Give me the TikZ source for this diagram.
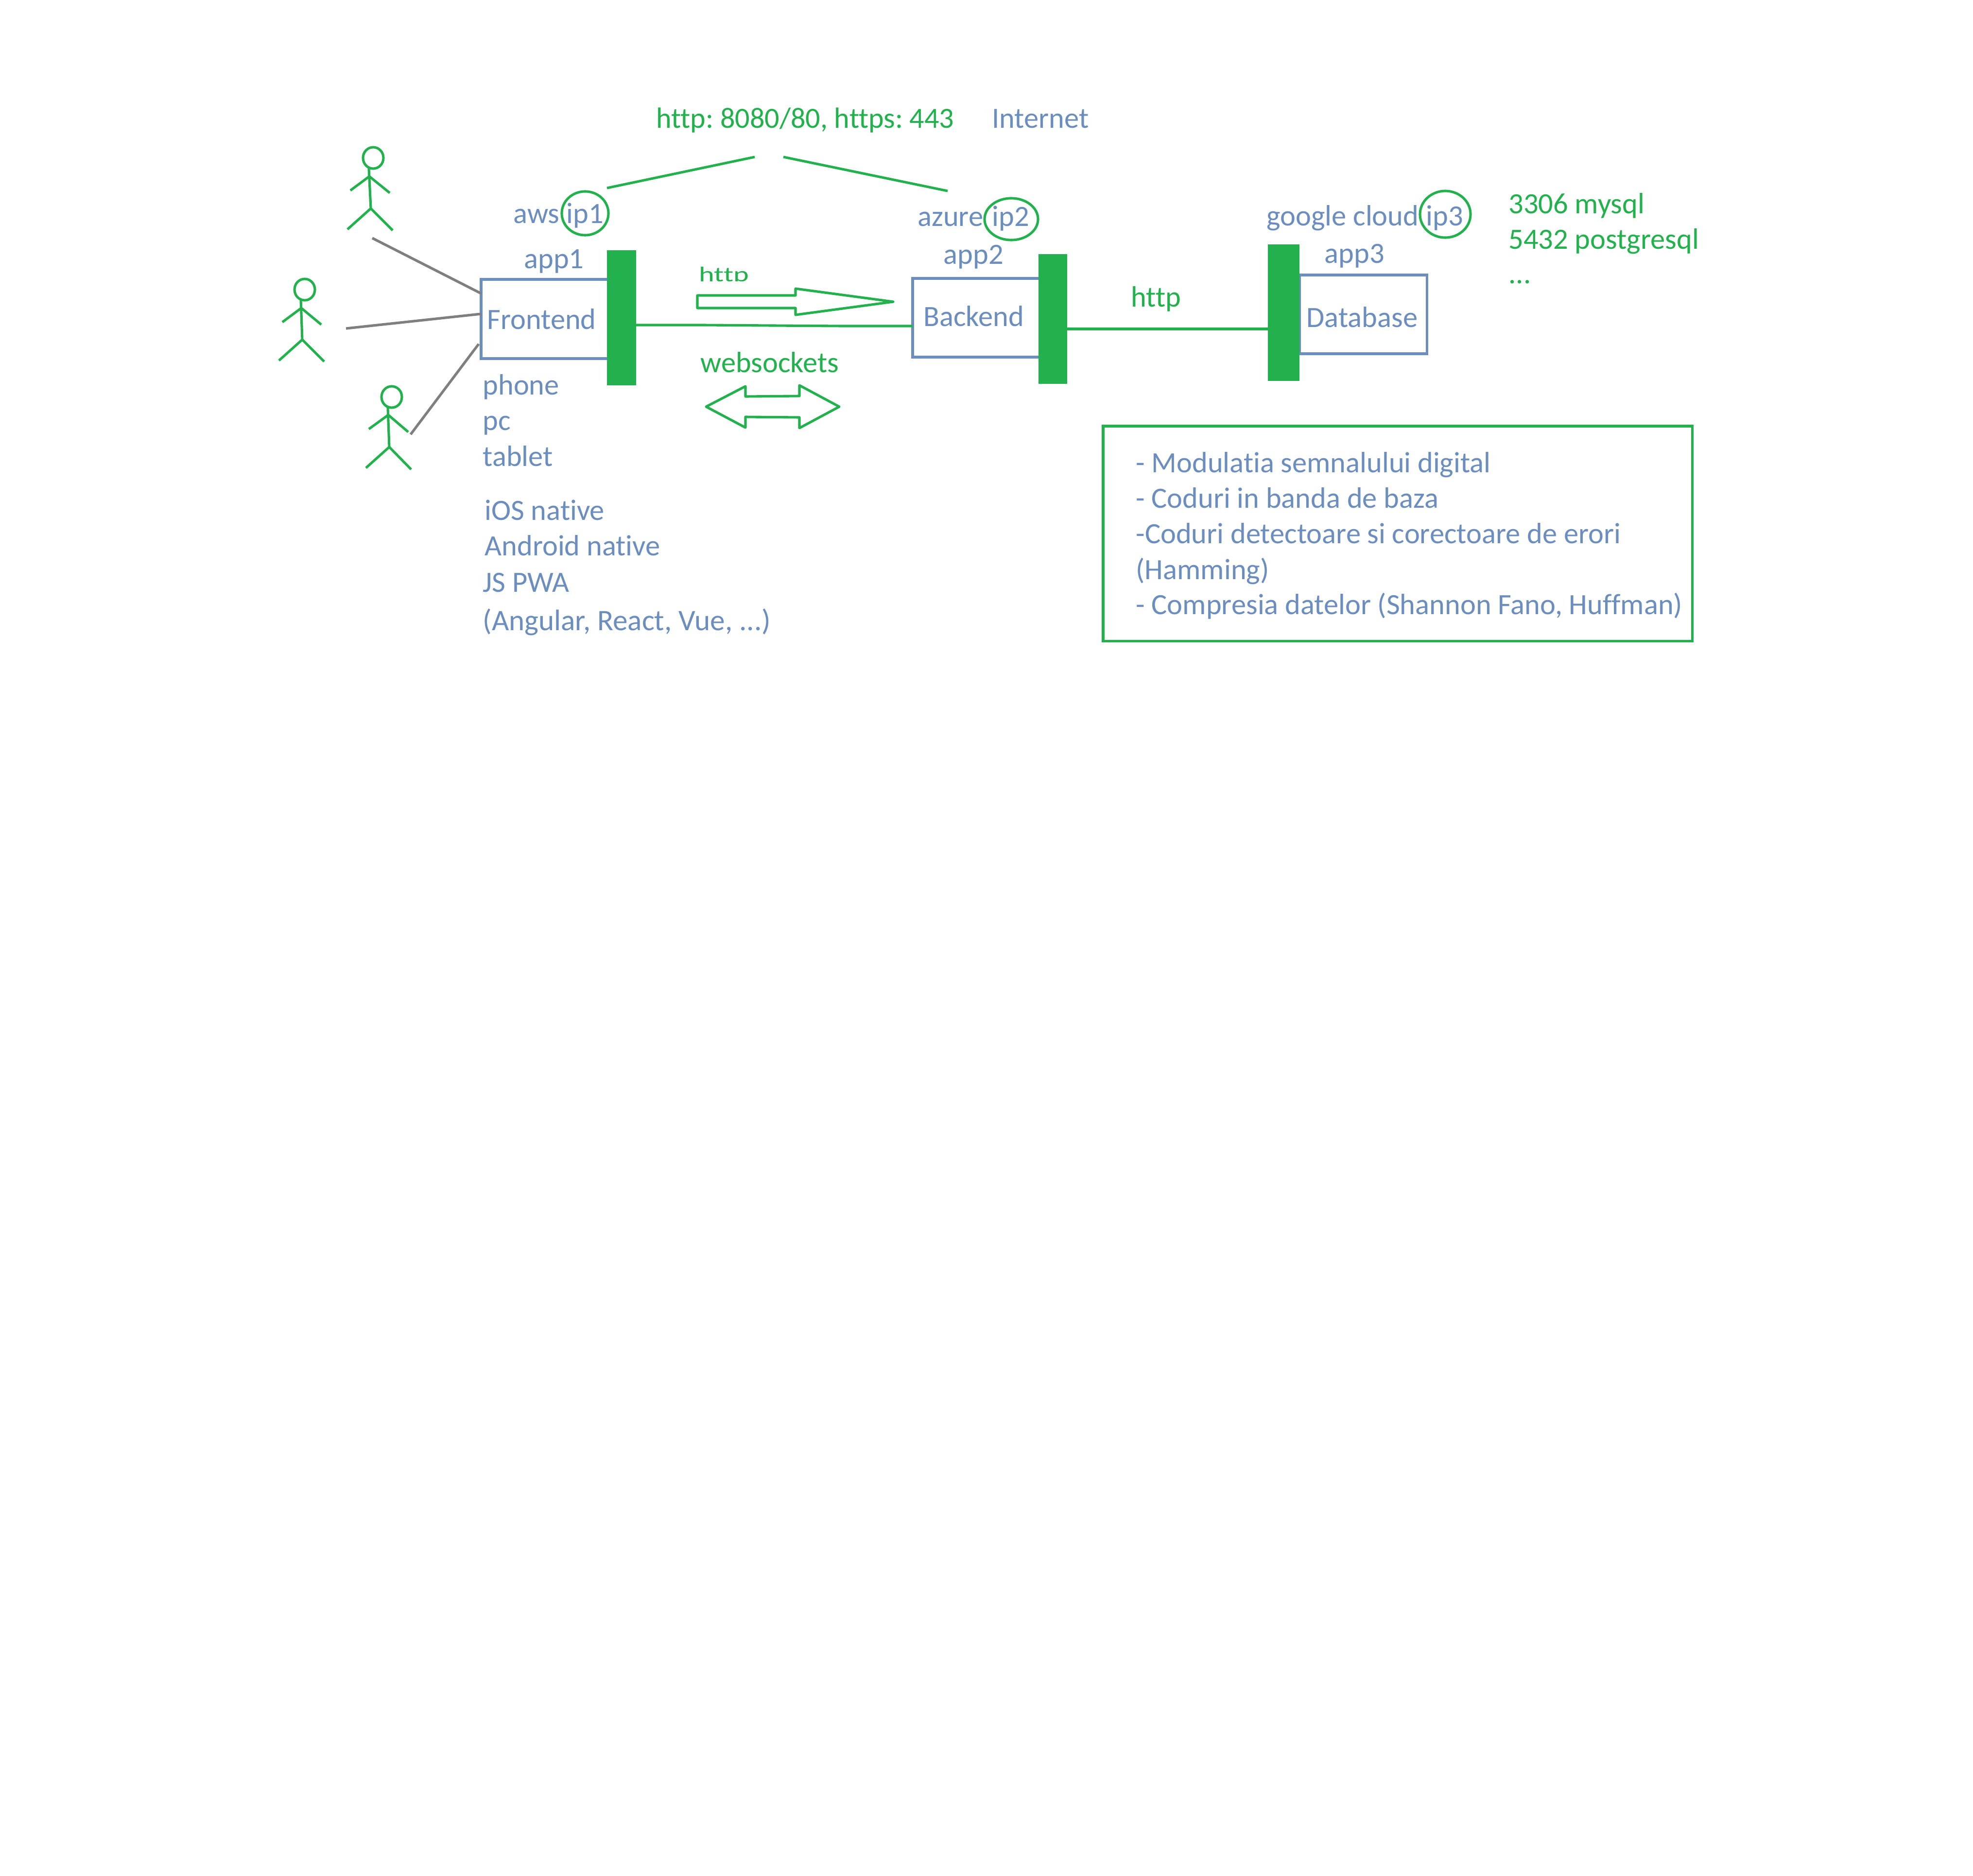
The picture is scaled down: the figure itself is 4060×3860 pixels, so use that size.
\documentclass[tikz,border=0pt]{standalone}
\usepackage{fontspec}
\setmainfont[Ligatures=NoCommon]{Carlito}
\definecolor{gr}{HTML}{22B14C}
\definecolor{bl}{HTML}{6C8EBF}
\definecolor{gy}{HTML}{7F7F7F}
\usetikzlibrary{shapes.geometric}
\tikzset{
  lb/.style={anchor=base west,inner sep=0pt,outer sep=0pt,text=bl,xshift=-0.015cm,yshift=-0.02cm,font=\fontsize{17.2}{20}\selectfont\frenchspacing},
  lg/.style={lb,text=gr},
  boxn/.style={draw=bl,line width=1.5pt,anchor=north west,inner sep=0pt,outer sep=0pt},
  bar/.style={fill=gr,draw=none,anchor=north west,inner sep=0pt,outer sep=0pt},
  gl/.style={draw=gr,line width=1.45pt,line join=round},
  gyl/.style={draw=gy,line width=1.5pt},
  ring/.style={draw=gr,line width=1.45pt,ellipse,inner sep=0pt,outer sep=0pt},
}
\begin{document}
\begin{tikzpicture}[x=0.01cm,y=-0.01cm]
\useasboundingbox[fill=white] (0,0) rectangle (4060,3860);

% boxes
\node[boxn,minimum width=2.61cm,minimum height=1.63cm] (front) at (990,575) {};
\node[boxn,minimum width=2.61cm,minimum height=1.62cm] (back) at (1878,573) {};
\node[boxn,minimum width=2.62cm,minimum height=1.62cm] (db) at (2674,566) {};
\node[bar,minimum width=0.60cm,minimum height=2.78cm] (bar1) at (1249,515) {};
\node[bar,minimum width=0.59cm,minimum height=2.67cm] (bar2) at (2137,523) {};
\node[bar,minimum width=0.65cm,minimum height=2.81cm] (bar3) at (2609,503) {};
\node[draw=gr,line width=1.5pt,anchor=north west,inner sep=0pt,outer sep=0pt,minimum width=12.12cm,minimum height=4.42cm] (note) at (2270,877) {};

% connectors
\coordinate (c1) at (1447,669);
\coordinate (c2) at (1734,671);
\draw[gl] (bar1.east |- 0,669) -- (c1) -- (c2) -- (back.west |- 0,671);
\draw[gl] (bar2.east |- 0,677) -- (bar3.west |- 0,677);

% top lines
\coordinate (t1) at (1249,387); \coordinate (t2) at (1553,323);
\coordinate (t3) at (1612,323); \coordinate (t4) at (1950,393);
\draw[gl] (t1) -- (t2);
\draw[gl] (t3) -- (t4);

% gray lines
\coordinate (u1) at (766,490);
\coordinate (u2) at (712,676);
\coordinate (u3) at (845,894);
\coordinate (u4) at (985,708);
\draw[gyl] (u1) -- (front.west |- 0,604);
\draw[gyl] (u2) -- (front.west |- 0,646);
\draw[gyl] (u3) -- (u4);

% actors
\node[ring,minimum width=0.42cm,minimum height=0.44cm] (h1) at (768,325) {};
\draw[gl] (759,347) -- (763,429) (721,392) -- (760,363) -- (802,397) (715,472) -- (763,429) -- (808,474);
\node[ring,minimum width=0.42cm,minimum height=0.44cm] (h2) at (627,596) {};
\draw[gl] (619,617) -- (622,699) (581,663) -- (620,634) -- (661,668) (574,742) -- (622,699) -- (667,744);
\node[ring,minimum width=0.42cm,minimum height=0.44cm] (h3) at (806,817) {};
\draw[gl] (798,839) -- (801,920) (759,883) -- (799,854) -- (840,889) (753,963) -- (801,920) -- (846,966);

% block arrows
\draw[gl] (1435,608) -- (1637,608) -- (1637,594) -- (1838,621) -- (1637,648) -- (1637,634) -- (1435,634) -- cycle;
\draw[gl] (1453,837) -- (1534,795) -- (1534,816) -- (1645,815) -- (1645,793) -- (1727,837) -- (1645,881) -- (1645,859) -- (1534,858) -- (1534,880) -- cycle;

% rings
\node[ring,minimum width=0.96cm,minimum height=0.90cm] (r1) at (1204,439) {};
\node[ring,minimum width=1.10cm,minimum height=0.86cm] (r2) at (2081,451) {};
\node[ring,minimum width=1.04cm,minimum height=0.96cm] (r3) at (2974,441) {};

% texts
\node[lg,font=\fontsize{17.1}{20}\selectfont\frenchspacing] (tports) at (1352,261) {http: 8080/80, https: 443};
\node[lb] (tnet) at (2043,261) {Internet};
\node[lb] (taws) at (1058,457) {aws};
\node[lb] (tip1) at (1167,457) {ip1};
\node[lb] (tapp1) at (1080,550) {app1};
\node[lb] (tfront) at (1004,675) {Frontend};
\node[lb] (tphone) at (995,810) {phone};
\node[lb] (tpc) at (995,883) {pc};
\node[lb] (ttablet) at (995,957) {tablet};
\node[lb] (tios) at (999,1068) {iOS native};
\node[lb] (tand) at (999,1141) {Android native};
\node[lb] (tjs) at (995,1216) {JS PWA};
\node[lb,font=\fontsize{17.4}{20}\selectfont\frenchspacing] (tang) at (995,1295) {(Angular, React, Vue, ...)};
\begin{scope}
\clip (1430,530) rectangle (1560,578);
\node[lg,yscale=0.72] (thttp) at (1440,577) {http};
\end{scope}
\node[lg] (tws) at (1443,764) {websockets};
\node[lb] (tazure) at (1890,463) {azure};
\node[lb] (tip2) at (2043,463) {ip2};
\node[lb] (tapp2) at (1943,541) {app2};
\node[lb] (tback) at (1902,669) {Backend};
\node[lg] (thttpb) at (2329,629) {http};
\node[lb] (tgoogle) at (2608,462) {google cloud};
\node[lb] (tip3) at (2936,462) {ip3};
\node[lb] (tapp3) at (2727,539) {app3};
\node[lb] (tdb) at (2690,671) {Database};
\node[lg] (tmysql) at (3106,437) {3306 mysql};
\node[lg] (tpg) at (3106,510) {5432 postgresql};
\node[lg] (tdots) at (3106,581) {...};
\node[lb] (n1) at (2339,970) {- Modulatia semnalului digital};
\node[lb] (n2) at (2339,1043) {- Coduri in banda de baza};
\node[lb] (n3) at (2339,1116) {-Coduri detectoare si corectoare de erori};
\node[lb] (n4) at (2339,1190) {(Hamming)};
\node[lb] (n5) at (2339,1262) {- Compresia datelor (Shannon Fano, Huffman)};
\end{tikzpicture}
\end{document}
